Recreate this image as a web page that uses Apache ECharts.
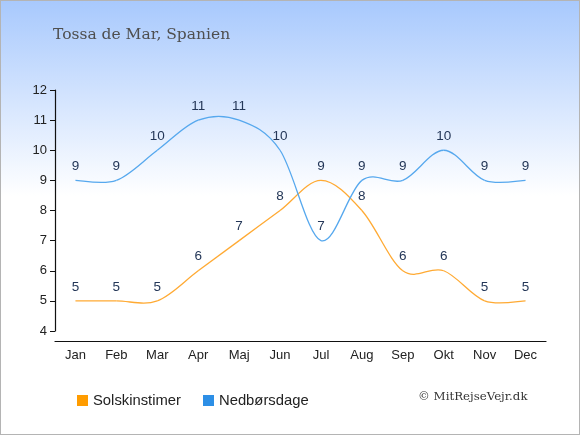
<!DOCTYPE html>
<html>
<head>
<meta charset="utf-8">
<script src="https://cdn.jsdelivr.net/npm/echarts@6/dist/echarts.min.js"></script>
<style>
html,body{margin:0;padding:0;background:#fff;}
#chart{width:578px;height:433px;border:1px solid #b4b4b4;}
</style>
</head>
<body>
<div id="chart"></div>
<script>
var months = ["Jan","Feb","Mar","Apr","Maj","Jun","Jul","Aug","Sep","Okt","Nov","Dec"];
var solskin = [5,5,5,6,7,8,9,8,6,6,5,5];
var nedbor = [9,9,10,11,11,10,7,9,9,10,9,9];

var font = "Arial, Liberation Sans, sans-serif";
var labelStyle = {show:true,position:"top",distance:7,color:"#243758",fontSize:13.5,fontFamily:font};

// kurve gennem punkterne (catmull-rom), regnet i pixels via akserne
var makeCurve = function(values,color){
	return {
		type:"custom",silent:true,z:3,
		data:values.map(function(v,i){ return [i,v]; }),
		renderItem:function(params,api){
			var i = params.dataIndex;
			if(i>=values.length-1){ return; }
			var pt = function(k){
				k = Math.max(0,Math.min(values.length-1,k));
				return api.coord([k,values[k]]);
			};
			var p0 = pt(i-1), p1 = pt(i), p2 = pt(i+1), p3 = pt(i+2);
			return {
				type:"bezierCurve",
				shape:{
					x1:p1[0],y1:p1[1],x2:p2[0],y2:p2[1],
					cpx1:p1[0]+(p2[0]-p0[0])/6,cpy1:p1[1]+(p2[1]-p0[1])/6,
					cpx2:p2[0]-(p3[0]-p1[0])/6,cpy2:p2[1]-(p3[1]-p1[1])/6
				},
				style:{stroke:color,lineWidth:1.3,fill:null}
			};
		}
	};
};

var chart = echarts.init(document.getElementById("chart"));
chart.setOption({
	backgroundColor: new echarts.graphic.LinearGradient(0,0,0,1,[
		{offset:0,color:"#a8c9fd"},
		{offset:0.45,color:"#ffffff"},
		{offset:1,color:"#ffffff"}
	]),
	animation:false,
	title:{
		text:"Tossa de Mar, Spanien",left:47,top:21,
		textStyle:{fontFamily:"DejaVu Serif, serif",fontWeight:"normal",fontSize:15.5,color:"#4f4f4f"}
	},
	grid:{left:54,right:33,top:89,bottom:103},
	xAxis:{
		type:"category",data:months,boundaryGap:true,offset:10,
		axisLine:{lineStyle:{color:"#111",width:1.2}},
		axisTick:{alignWithLabel:true,length:5,lineStyle:{color:"#111"}},
		axisLabel:{color:"#222",fontSize:13,fontFamily:font,margin:8}
	},
	yAxis:{
		type:"value",min:4,max:12,interval:1,
		axisLine:{show:true,lineStyle:{color:"#111",width:1.2}},
		axisTick:{show:true,length:5,lineStyle:{color:"#111"}},
		axisLabel:{color:"#222",fontSize:13,fontFamily:font,margin:8},
		splitLine:{show:false}
	},
	legend:{
		left:71,top:387,itemWidth:11,itemHeight:11,itemGap:22,icon:"rect",
		textStyle:{color:"#222",fontSize:14.8,fontFamily:font},
		data:["Solskinstimer","Nedbørsdage"]
	},
	graphic:[{
		type:"text",left:417,top:390,
		style:{text:"© MitRejseVejr.dk",fill:"#333",font:"11.8px 'DejaVu Serif', serif"}
	}],
	series:[
		{name:"Solskinstimer",type:"line",data:solskin,symbol:"circle",symbolSize:0.1,
		 itemStyle:{color:"#ff9c00"},lineStyle:{opacity:0},label:labelStyle},
		{name:"Nedbørsdage",type:"line",data:nedbor,symbol:"circle",symbolSize:0.1,
		 itemStyle:{color:"#2d8fe6"},lineStyle:{opacity:0},label:labelStyle},
		makeCurve(solskin,"#ffaa33"),
		makeCurve(nedbor,"#56a8ee")
	]
});
</script>
</body>
</html>
